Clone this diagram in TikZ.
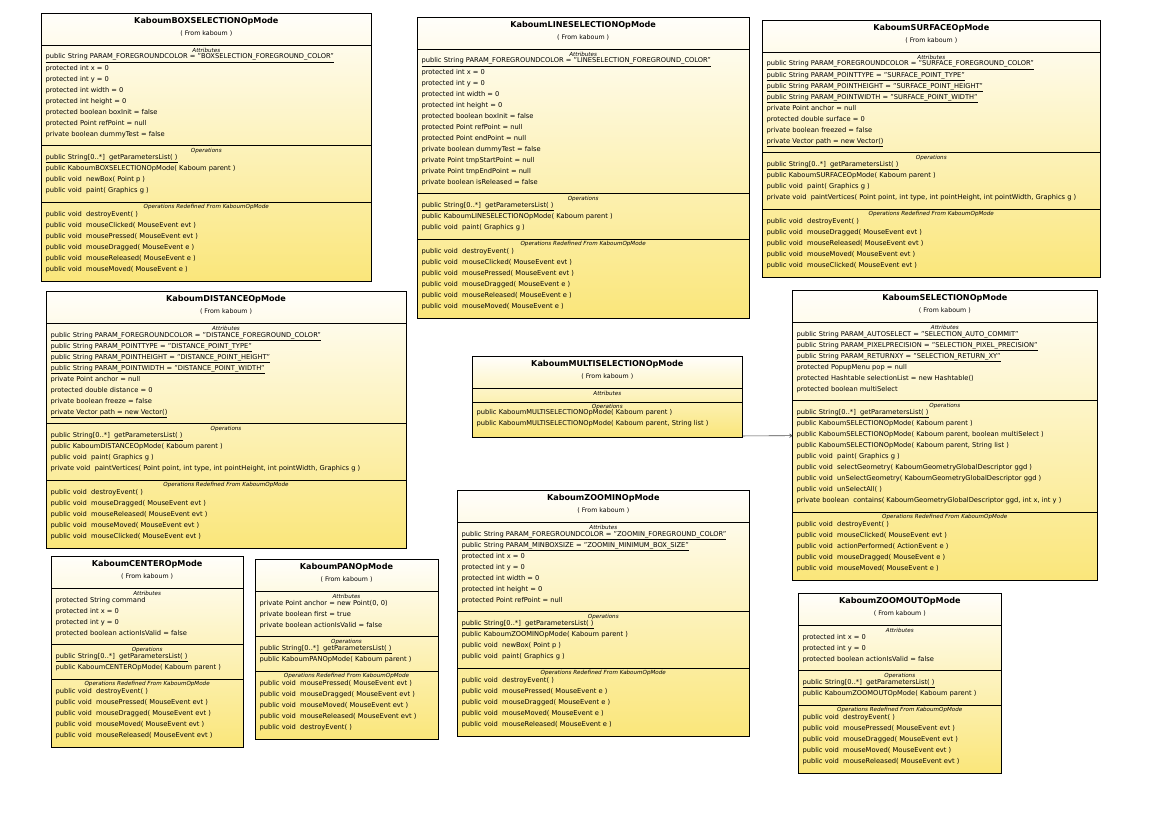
\documentclass[tikz,border=0pt]{standalone}
\usepackage{fontspec}
\setmainfont{DejaVu Sans}
\usetikzlibrary{arrows.meta}
\definecolor{ylw}{RGB}{250,230,122}
\definecolor{cream}{RGB}{255,254,250}
\newcount\rowidx
\tikzset{
 classbox/.style={draw=black, line width=0.9pt, anchor=north west, inner sep=0pt, top color=cream, bottom color=ylw},
 csep/.style={draw=black, line width=0.9pt},
 ctitle/.style={font=\fontsize{8.1}{9}\selectfont\bfseries, inner sep=0pt},
 cfrom/.style={font=\fontsize{6.3}{7}\selectfont, inner sep=0pt},
 clabel/.style={font=\fontsize{5.6}{6}\selectfont\itshape, inner sep=0pt},
 crow/.style={font=\fontsize{6.7}{7.5}\selectfont, anchor=west, inner sep=0pt, text height=4.8pt, text depth=1.4pt},
 assoc/.style={draw=black!70, line width=0.6pt, -{To[length=3pt,width=4pt]}}
}
\newcommand\umlclass[8]{%
  \pgfmathsetmacro\cx{#2}\pgfmathsetmacro\cy{#3}\pgfmathsetmacro\cw{#4}%
  \pgfmathsetmacro\ya{#3+31.7}%
  \pgfmathsetmacro\yb{\ya+ifthenelse(#5==0,14,12.5+11.03*#5)}%
  \pgfmathsetmacro\yc{\yb+12.5+11.03*#6}%
  \pgfmathsetmacro\yd{ifthenelse(#7==0,\yc,\yc+12.5+11.03*#7)}%
  \pgfmathsetmacro\ch{\yd-#3}%
  \node[classbox, minimum width=\cw pt, minimum height=\ch pt] (#1) at (\cx,\cy) {};
  \draw[csep] (\cx,\ya) -- ++(\cw,0) (\cx,\yb) -- ++(\cw,0);
  \ifnum#7>0 \draw[csep] (\cx,\yc) -- ++(\cw,0);\fi
  \node[ctitle] (#1-title) at (\cx+\cw/2,\cy+8.4) {#8};
  \node[cfrom] (#1-from) at (\cx+\cw/2,\cy+20.4) {( From kaboum )};
  \node[clabel] (#1-la) at (\cx+\cw/2,\ya+5) {Attributes};
  \node[clabel] (#1-lo) at (\cx+\cw/2,\yb+5) {Operations};
  \ifnum#7>0 \node[clabel] (#1-lr) at (\cx+\cw/2,\yc+5) {Operations Redefined From KaboumOpMode};\fi
  \def\curname{#1}%
}
\newcommand\secA{\pgfmathsetmacro\cury{\ya+12.3}}
\newcommand\secO{\pgfmathsetmacro\cury{\yb+12.3}}
\newcommand\secR{\pgfmathsetmacro\cury{\yc+12.3}}
\newcommand\rw[1]{\global\advance\rowidx by 1 \node[crow] (\curname-r\the\rowidx) at (\cx+4,\cury) {#1};\pgfmathsetmacro\cury{\cury+11.03}}
\newcommand\pv{public void\ \ }
\newcommand\gpl{\underline{public String[0..*]\ \ getParametersList( )}}
\begin{document}
\begin{tikzpicture}[x=1pt,y=-1pt]
\useasboundingbox[fill=white] (0,0) rectangle (1161,826);

% BOXSELECTION
\umlclass{box}{41.3}{13.3}{330}{8}{4}{6}{KaboumBOXSELECTIONOpMode}
\secA
\rw{\underline{public String PARAM\_FOREGROUNDCOLOR = "BOXSELECTION\_FOREGROUND\_COLOR"}}
\rw{protected int x = 0}
\rw{protected int y = 0}
\rw{protected int width = 0}
\rw{protected int height = 0}
\rw{protected boolean boxInit = false}
\rw{protected Point refPoint = null}
\rw{private boolean dummyTest = false}
\secO
\rw{\gpl}
\rw{public KaboumBOXSELECTIONOpMode( Kaboum parent )}
\rw{\pv newBox( Point p )}
\rw{\pv paint( Graphics g )}
\secR
\rw{\pv destroyEvent( )}
\rw{\pv mouseClicked( MouseEvent evt )}
\rw{\pv mousePressed( MouseEvent evt )}
\rw{\pv mouseDragged( MouseEvent e )}
\rw{\pv mouseReleased( MouseEvent e )}
\rw{\pv mouseMoved( MouseEvent e )}

% LINESELECTION
\umlclass{line}{417.3}{17.3}{331.7}{12}{3}{6}{KaboumLINESELECTIONOpMode}
\secA
\rw{\underline{public String PARAM\_FOREGROUNDCOLOR = "LINESELECTION\_FOREGROUND\_COLOR"}}
\rw{protected int x = 0}
\rw{protected int y = 0}
\rw{protected int width = 0}
\rw{protected int height = 0}
\rw{protected boolean boxInit = false}
\rw{protected Point refPoint = null}
\rw{protected Point endPoint = null}
\rw{private boolean dummyTest = false}
\rw{private Point tmpStartPoint = null}
\rw{private Point tmpEndPoint = null}
\rw{private boolean isReleased = false}
\secO
\rw{\gpl}
\rw{public KaboumLINESELECTIONOpMode( Kaboum parent )}
\rw{\pv paint( Graphics g )}
\secR
\rw{\pv destroyEvent( )}
\rw{\pv mouseClicked( MouseEvent evt )}
\rw{\pv mousePressed( MouseEvent evt )}
\rw{\pv mouseDragged( MouseEvent e )}
\rw{\pv mouseReleased( MouseEvent e )}
\rw{\pv mouseMoved( MouseEvent e )}

% SURFACE
\umlclass{surf}{762.3}{20.3}{338}{8}{4}{5}{KaboumSURFACEOpMode}
\secA
\rw{\underline{public String PARAM\_FOREGROUNDCOLOR = "SURFACE\_FOREGROUND\_COLOR"}}
\rw{\underline{public String PARAM\_POINTTYPE = "SURFACE\_POINT\_TYPE"}}
\rw{\underline{public String PARAM\_POINTHEIGHT = "SURFACE\_POINT\_HEIGHT"}}
\rw{\underline{public String PARAM\_POINTWIDTH = "SURFACE\_POINT\_WIDTH"}}
\rw{private Point anchor = null}
\rw{protected double surface = 0}
\rw{private boolean freezed = false}
\rw{\underline{private Vector path = new Vector()}}
\secO
\rw{\gpl}
\rw{public KaboumSURFACEOpMode( Kaboum parent )}
\rw{\pv paint( Graphics g )}
\rw{private void\ \ paintVertices( Point point, int type, int pointHeight, int pointWidth, Graphics g )}
\secR
\rw{\pv destroyEvent( )}
\rw{\pv mouseDragged( MouseEvent evt )}
\rw{\pv mouseReleased( MouseEvent evt )}
\rw{\pv mouseMoved( MouseEvent evt )}
\rw{\pv mouseClicked( MouseEvent evt )}

% DISTANCE
\umlclass{dist}{46.3}{291.3}{359.4}{8}{4}{5}{KaboumDISTANCEOpMode}
\secA
\rw{\underline{public String PARAM\_FOREGROUNDCOLOR = "DISTANCE\_FOREGROUND\_COLOR"}}
\rw{\underline{public String PARAM\_POINTTYPE = "DISTANCE\_POINT\_TYPE"}}
\rw{\underline{public String PARAM\_POINTHEIGHT = "DISTANCE\_POINT\_HEIGHT"}}
\rw{\underline{public String PARAM\_POINTWIDTH = "DISTANCE\_POINT\_WIDTH"}}
\rw{private Point anchor = null}
\rw{protected double distance = 0}
\rw{private boolean freeze = false}
\rw{\underline{private Vector path = new Vector()}}
\secO
\rw{\gpl}
\rw{public KaboumDISTANCEOpMode( Kaboum parent )}
\rw{\pv paint( Graphics g )}
\rw{private void\ \ paintVertices( Point point, int type, int pointHeight, int pointWidth, Graphics g )}
\secR
\rw{\pv destroyEvent( )}
\rw{\pv mouseDragged( MouseEvent evt )}
\rw{\pv mouseReleased( MouseEvent evt )}
\rw{\pv mouseMoved( MouseEvent evt )}
\rw{\pv mouseClicked( MouseEvent evt )}

% MULTISELECTION
\umlclass{multi}{472.3}{356.3}{270}{0}{2}{0}{KaboumMULTISELECTIONOpMode}
\pgfmathsetmacro\cury{\yb+10.8}
\rw{public KaboumMULTISELECTIONOpMode( Kaboum parent )}
\rw{public KaboumMULTISELECTIONOpMode( Kaboum parent, String list )}

% SELECTION
\umlclass{sel}{792.3}{290.3}{305}{6}{9}{5}{KaboumSELECTIONOpMode}
\secA
\rw{\underline{public String PARAM\_AUTOSELECT = "SELECTION\_AUTO\_COMMIT"}}
\rw{\underline{public String PARAM\_PIXELPRECISION = "SELECTION\_PIXEL\_PRECISION"}}
\rw{\underline{public String PARAM\_RETURNXY = "SELECTION\_RETURN\_XY"}}
\rw{protected PopupMenu pop = null}
\rw{protected Hashtable selectionList = new Hashtable()}
\rw{protected boolean multiSelect}
\secO
\rw{\gpl}
\rw{public KaboumSELECTIONOpMode( Kaboum parent )}
\rw{public KaboumSELECTIONOpMode( Kaboum parent, boolean multiSelect )}
\rw{public KaboumSELECTIONOpMode( Kaboum parent, String list )}
\rw{\pv paint( Graphics g )}
\rw{\pv selectGeometry( KaboumGeometryGlobalDescriptor ggd )}
\rw{\pv unSelectGeometry( KaboumGeometryGlobalDescriptor ggd )}
\rw{\pv unSelectAll( )}
\rw{private boolean\ \ contains( KaboumGeometryGlobalDescriptor ggd, int x, int y )}
\secR
\rw{\pv destroyEvent( )}
\rw{\pv mouseClicked( MouseEvent evt )}
\rw{\pv actionPerformed( ActionEvent e )}
\rw{\pv mouseDragged( MouseEvent e )}
\rw{\pv mouseMoved( MouseEvent e )}

% CENTER
\umlclass{center}{51.3}{556.3}{191.7}{4}{2}{5}{KaboumCENTEROpMode}
\secA
\rw{protected String command}
\rw{protected int x = 0}
\rw{protected int y = 0}
\rw{protected boolean actionIsValid = false}
\secO
\rw{\gpl}
\rw{public KaboumCENTEROpMode( Kaboum parent )}
\secR
\rw{\pv destroyEvent( )}
\rw{\pv mousePressed( MouseEvent evt )}
\rw{\pv mouseDragged( MouseEvent evt )}
\rw{\pv mouseMoved( MouseEvent evt )}
\rw{\pv mouseReleased( MouseEvent evt )}

% PAN
\umlclass{pan}{255.3}{559.3}{182.4}{3}{2}{5}{KaboumPANOpMode}
\secA
\rw{private Point anchor = new Point(0, 0)}
\rw{private boolean first = true}
\rw{private boolean actionIsValid = false}
\secO
\rw{\gpl}
\rw{public KaboumPANOpMode( Kaboum parent )}
\secR
\rw{\pv mousePressed( MouseEvent evt )}
\rw{\pv mouseDragged( MouseEvent evt )}
\rw{\pv mouseMoved( MouseEvent evt )}
\rw{\pv mouseReleased( MouseEvent evt )}
\rw{\pv destroyEvent( )}

% ZOOMIN
\umlclass{zin}{457.3}{490.3}{292}{7}{4}{5}{KaboumZOOMINOpMode}
\secA
\rw{\underline{public String PARAM\_FOREGROUNDCOLOR = "ZOOMIN\_FOREGROUND\_COLOR"}}
\rw{\underline{public String PARAM\_MINBOXSIZE = "ZOOMIN\_MINIMUM\_BOX\_SIZE"}}
\rw{protected int x = 0}
\rw{protected int y = 0}
\rw{protected int width = 0}
\rw{protected int height = 0}
\rw{protected Point refPoint = null}
\secO
\rw{\gpl}
\rw{public KaboumZOOMINOpMode( Kaboum parent )}
\rw{\pv newBox( Point p )}
\rw{\pv paint( Graphics g )}
\secR
\rw{\pv destroyEvent( )}
\rw{\pv mousePressed( MouseEvent e )}
\rw{\pv mouseDragged( MouseEvent e )}
\rw{\pv mouseMoved( MouseEvent e )}
\rw{\pv mouseReleased( MouseEvent e )}

% ZOOMOUT
\umlclass{zout}{798.3}{593.3}{203}{3}{2}{5}{KaboumZOOMOUTOpMode}
\secA
\rw{protected int x = 0}
\rw{protected int y = 0}
\rw{protected boolean actionIsValid = false}
\secO
\rw{\gpl}
\rw{public KaboumZOOMOUTOpMode( Kaboum parent )}
\secR
\rw{\pv destroyEvent( )}
\rw{\pv mousePressed( MouseEvent evt )}
\rw{\pv mouseDragged( MouseEvent evt )}
\rw{\pv mouseMoved( MouseEvent evt )}
\rw{\pv mouseReleased( MouseEvent evt )}

% association
\draw[assoc] ([yshift=1.5pt]multi.south east) -- (sel.west);
\end{tikzpicture}
\end{document}
